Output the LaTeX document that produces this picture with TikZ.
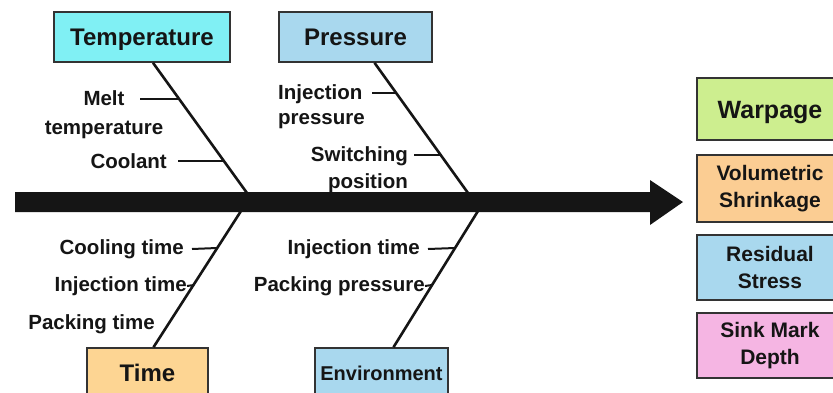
\documentclass[tikz,border=0pt]{standalone}
\usepackage{fontspec}
\setmainfont{Liberation Sans}
\usetikzlibrary{positioning}
\definecolor{inkc}{HTML}{151515}
\definecolor{boxline}{HTML}{333333}
\definecolor{tempc}{HTML}{80F0F4}
\definecolor{presc}{HTML}{A9D8EE}
\definecolor{timec}{HTML}{FDD593}
\definecolor{warpc}{HTML}{CDEE8F}
\definecolor{shrinkc}{HTML}{FBCD93}
\definecolor{sinkc}{HTML}{F5B5E3}
\begin{document}
\begin{tikzpicture}[x=1pt,y=-1pt,
  cat/.style={draw=boxline,line width=1.6pt,inner sep=0pt,text=inkc,
    text height=22pt,text depth=5pt,
    font=\bfseries\fontsize{24}{28}\selectfont},
  effect/.style={draw=boxline,line width=1.6pt,inner sep=0pt,text=inkc,
    minimum width=146pt,align=center,
    font=\bfseries\fontsize{21}{27}\selectfont},
  lbl/.style={inner sep=0pt,text=inkc,font=\bfseries\fontsize{20.5}{27}\selectfont},
  bone/.style={line width=2.6pt,draw=inkc},
  tick/.style={line width=2pt,draw=inkc}]
\useasboundingbox (0,0) rectangle (833,392);
\fill[white] (0,0) rectangle (833,392);
% spine with arrow head
\coordinate (tail) at (15,202);
\coordinate (head) at (683,202);
\fill[inkc] (tail) ++(0,-10) -- (650,192) -- (650,180) -- (head) -- (650,225) -- (650,212) -- (15,212) -- cycle;
% cause boxes
\node[cat,fill=tempc,minimum width=176pt,minimum height=50pt] (temp) at (142,37) {Temperature};
\node[cat,fill=presc,minimum width=153pt,minimum height=50pt] (pres) at (355.5,37) {Pressure};
\node[cat,fill=timec,minimum width=121pt,minimum height=50pt] (time) at (147.5,373) {Time};
\node[cat,fill=presc,minimum width=133pt,minimum height=50pt,text height=19pt,text depth=4.5pt,
  font=\bfseries\fontsize{20}{24}\selectfont] (env) at (381.5,373) {Environment};
% bones
\coordinate (tempJ) at (247,193);
\coordinate (presJ) at (468,193);
\coordinate (timeJ) at (241,211);
\coordinate (envJ) at (478,211);
\draw[bone] ([xshift=11pt]temp.south) -- (tempJ);
\draw[bone] ([xshift=19pt]pres.south) -- (presJ);
\draw[bone] ([xshift=6pt]time.north) -- (timeJ);
\draw[bone] ([xshift=12pt]env.north) -- (envJ);
% temperature causes
\node[lbl,align=center,font=\bfseries\fontsize{20.5}{29}\selectfont] (melt) at (104,115) {Melt\\temperature};
\node[lbl,anchor=east] (cool) at (167,161) {Coolant};
\draw[tick] (140,99) -- (180,99);
\draw[tick] (cool.east) ++(11,0) -- (223,161);
% pressure causes
\node[lbl,align=left,anchor=west,font=\bfseries\fontsize{20.5}{25}\selectfont] (injp) at (278,106.5) {Injection\\pressure};
\node[lbl,align=right,anchor=east] (swit) at (408,170) {Switching\\position};
\draw[tick] (372,93) -- (397,93);
\draw[tick] (414,155) -- (441,155);
% time causes
\node[lbl,anchor=east] (coolt) at (184,249) {Cooling time};
\node[lbl,anchor=east] (injt) at (187,286) {Injection time};
\node[lbl,anchor=east] (packt) at (155,324) {Packing time};
\draw[tick] ([xshift=8pt]coolt.east) -- (217,248);
\draw[tick] (injt.east) -- (194,285);
% environment causes
\node[lbl,anchor=east] (injte) at (420,249) {Injection time};
\node[lbl,anchor=east] (packp) at (425,286) {Packing pressure};
\draw[tick] ([xshift=8pt]injte.east) -- (455,248);
\draw[tick] (packp.east) -- (432,285);
% effects
\node[effect,fill=warpc,minimum height=62pt,text height=23pt,text depth=5pt,
  font=\bfseries\fontsize{25}{28}\selectfont] (warp) at (770,109) {Warpage};
\node[effect,fill=shrinkc,minimum height=67pt] (shrink) at (770,188.5) {Volumetric\\Shrinkage};
\node[effect,fill=presc,minimum height=65pt] (resid) at (770,267.5) {Residual\\Stress};
\node[effect,fill=sinkc,minimum height=65pt] (sink) at (770,345.5) {Sink Mark\\Depth};
\end{tikzpicture}
\end{document}
